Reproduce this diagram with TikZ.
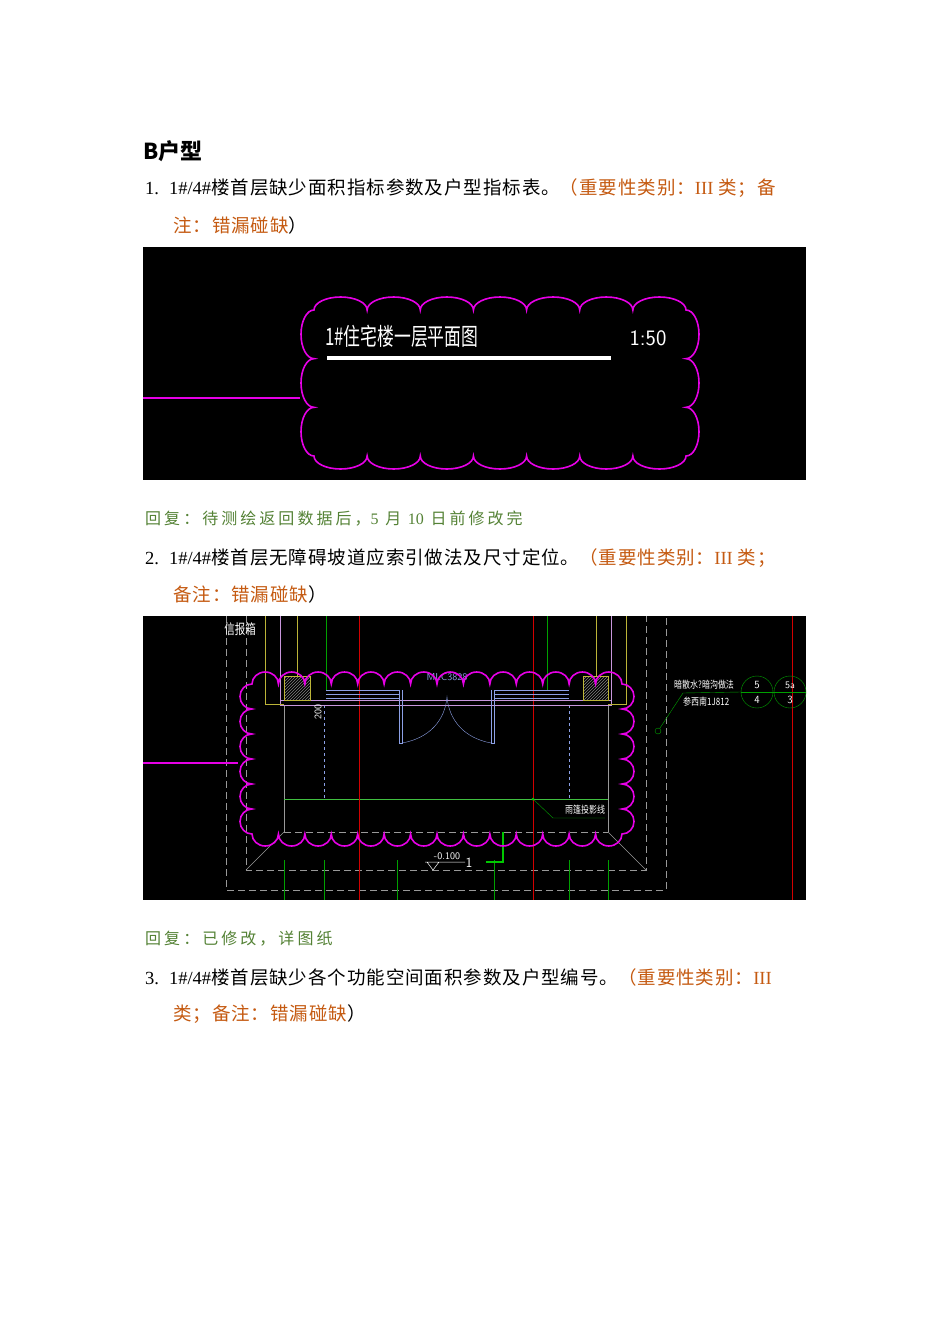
\documentclass[tikz,border=0pt]{standalone}
\usepackage{fontspec}
\setmainfont{Noto Sans CJK SC}
\newfontfamily\lat{Liberation Serif}
\usetikzlibrary{patterns}
\definecolor{cadpink}{RGB}{230,0,230}
\definecolor{orng}{RGB}{197,90,17}
\definecolor{grn}{RGB}{84,130,53}
\definecolor{wall}{RGB}{200,150,220}
\definecolor{door}{RGB}{140,160,230}
\definecolor{cgrn}{RGB}{0,200,0}
\definecolor{cred}{RGB}{210,0,0}
\newcommand\cloudpath[7]{%
 \pgfmathsetmacro\cw{(#3-#1)/#5}\pgfmathsetmacro\ch{(#4-#2)/#6}%
 \draw[cadpink,line width=1.6pt] (#1,#2)
  \foreach \i in {1,...,#5}{ arc[start angle=180,end angle=360,x radius=\cw/2,y radius=#7] }
  \foreach \i in {1,...,#6}{ arc[start angle=-90,end angle=90,x radius=#7,y radius=\ch/2] }
  \foreach \i in {1,...,#5}{ arc[start angle=0,end angle=180,x radius=\cw/2,y radius=#7] }
  \foreach \i in {1,...,#6}{ arc[start angle=90,end angle=270,x radius=#7,y radius=\ch/2] } -- cycle;}
\begin{document}
\begin{tikzpicture}[x=1pt,y=-1pt,
  body/.style={anchor=west,inner sep=0pt,font=\fontsize{18.5}{20}\selectfont\addfontfeatures{LetterSpace=5}},
  reply/.style={anchor=west,inner sep=0pt,text=grn,font=\fontsize{16}{18}\selectfont\addfontfeatures{LetterSpace=19}},
  cadtxt/.style={inner sep=0pt,text=white},
  gline/.style={gray!80,line width=0.6pt},
  gdash/.style={gray!80,dashed,dash pattern=on 7pt off 4pt,line width=0.6pt}]
\useasboundingbox[fill=white] (0,0) rectangle (950,1344);
\node[anchor=west,inner sep=0pt,font=\fontsize{22}{24}\selectfont\bfseries] (h) at (143,151) {B户型};
\node[body] (t1) at (145,188) {{\lat 1.}\hspace{10pt}{\lat 1\#/4\#}楼首层缺少面积指标参数及户型指标表。\textcolor{orng}{（重要性类别：{\lat III} 类；备}};
\node[body,text=orng] (t1b) at (173,225) {注：错漏碰缺\textcolor{black}{）}};
\node[reply] (r1) at (145,519) {回复：待测绘返回数据后，{\lat 5} 月 {\lat 10} 日前修改完};
\node[body] (t2) at (145,558) {{\lat 2.}\hspace{10pt}{\lat 1\#/4\#}楼首层无障碍坡道应索引做法及尺寸定位。\textcolor{orng}{（重要性类别：{\lat III} 类；}};
\node[body,text=orng] (t2b) at (173,594) {备注：错漏碰缺\textcolor{black}{）}};
\node[reply] (r2) at (145,939) {回复：已修改，详图纸};
\node[body] (t3) at (145,977) {{\lat 3.}\hspace{10pt}{\lat 1\#/4\#}楼首层缺少各个功能空间面积参数及户型编号。\textcolor{orng}{（重要性类别：{\lat III}}};
\node[body,text=orng] (t3b) at (173,1014) {类；备注：错漏碰缺\textcolor{black}{）}};
% image 1
\fill[black] (143,247) rectangle (806,480);
\draw[cadpink,line width=1.6pt] (143,398) -- (300,398);
\cloudpath{314}{310}{686}{456}{7}{3}{13}
\node[cadtxt,anchor=west,font=\fontsize{24}{26}\selectfont\addfontfeatures{FakeStretch=0.7}] (ttl) at (325,336) {1\#住宅楼一层平面图};
\node[cadtxt,font=\fontsize{22}{24}\selectfont\sffamily] (sc) at (648,338) {1:50};
\fill[white] (327,356) rectangle (611,360);
% image 2
\begin{scope}
\clip (143,616) rectangle (806,900);
\fill[black] (143,616) rectangle (806,900);
\draw[gdash] (226,616) -- (226,890) -- (666,890) -- (666,616);
\draw[gdash] (246,616) -- (246,870) -- (646,870) -- (646,616);
\draw[gdash] (284,832) -- (608,832);
\draw[gline] (284,832) -- (246,870) (608,832) -- (646,870);
\draw[gline] (284,705) -- (284,832) (608,705) -- (608,832);
\draw[door,dashed] (324,705) -- (324,799) (569,705) -- (569,799);
\draw[gline,green!50!gray] (284,799) -- (608,799);
\draw[cred,line width=0.8pt] (359,616) -- (359,900) (533,616) -- (533,900) (792,616) -- (792,900);
\draw[cgrn!80!black] (326,616) -- (326,690) (547,616) -- (547,690);
\foreach \x in {284,324,397,494,569,608} \draw[cgrn!80!black] (\x,860) -- (\x,900);
\draw[wall] (280,616) -- (280,705) -- (611,705) -- (611,616);
\draw[wall] (280,700) -- (611,700);
\draw[yellow!70!black] (265,616) -- (265,704) -- (284,704);
\draw[yellow!70!black] (297,616) -- (297,676) (626,616) -- (626,704) -- (608,704) (596,616) -- (596,676);
\fill[pattern=north east lines,pattern color=gray] (284,676) rectangle (310,700) (583,676) rectangle (608,700);
\draw[yellow!70!black] (284,676) rectangle (310,700) (583,676) rectangle (608,700);
\foreach \yy in {690,694,698} \draw[door] (326,\yy) -- (399,\yy) (494,\yy) -- (569,\yy);
\draw[door] (399,690) -- (399,743) -- (402,743) -- (402,690);
\draw[door] (494,690) -- (494,743) -- (491,743) -- (491,690);
\draw[door] (402,743) .. controls (430,738) and (445,720) .. (447,697) .. controls (449,720) and (464,738) .. (491,743);
\node[cadtxt,text=door,font=\fontsize{10}{12}\selectfont\sffamily] (mlc) at (447,677) {MLC3828};
\node[cadtxt,rotate=90,font=\fontsize{10}{12}\selectfont\sffamily] (d200) at (318,712) {200};
\node[cadtxt,font=\fontsize{14}{16}\selectfont\addfontfeatures{FakeStretch=0.75}] (xbx) at (240,629) {信报箱};
\node[cadtxt,font=\fontsize{10}{12}\selectfont\sffamily] (lv) at (447,856) {-0.100};
\coordinate (lva) at (425,862); \coordinate (lvb) at (465,862);
\draw[white,line width=0.5pt] (lva) -- (lvb) (427,862) -- (433,870) -- (439,862);
\node[cadtxt,font=\fontsize{14}{16}\selectfont\sffamily] (one) at (469,863) {1};
\draw[cgrn,line width=2pt] (503,832) -- (503,862) -- (486,862);
\node[cadtxt,anchor=west,font=\fontsize{10}{12}\selectfont\addfontfeatures{FakeStretch=0.8}] (an1) at (674,685) {暗散水?暗沟做法};
\node[cadtxt,anchor=west,font=\fontsize{10}{12}\selectfont\addfontfeatures{FakeStretch=0.8}] (an2) at (683,702) {参西南1J812};
\node[draw=cgrn!80!black,circle,minimum size=32pt,inner sep=0pt] (c1) at (757,692) {};
\node[draw=cgrn!80!black,circle,minimum size=32pt,inner sep=0pt] (c2) at (790,692) {};
\draw[cgrn!80!black] (c1.west) -- (c2.east);
\draw[cgrn!80!black] (683,693) -- (c1.west);
\node[cadtxt,font=\fontsize{11}{12}\selectfont\sffamily] at (757,685) {5};
\node[cadtxt,font=\fontsize{11}{12}\selectfont\sffamily] at (757,700) {4};
\node[cadtxt,font=\fontsize{10}{12}\selectfont\sffamily] at (790,685) {5a};
\node[cadtxt,font=\fontsize{11}{12}\selectfont\sffamily] at (790,700) {3};
\node[draw=cgrn!80!black,circle,minimum size=6pt,inner sep=0pt] (sm) at (658,731) {};
\draw[cgrn!80!black] (sm) -- (683,693);
\node[cadtxt,anchor=west,font=\fontsize{10}{12}\selectfont\addfontfeatures{FakeStretch=0.8}] (yp) at (565,810) {雨篷投影线};
\draw[cgrn!80!black] (533,799) -- (553,818) -- (605,818);
\fill[cgrn] (533,799) circle (1.5);
\draw[cadpink,line width=1.6pt] (143,763) -- (238,763);
\cloudpath{252}{684}{622}{834}{14}{6}{12}
\end{scope}
\end{tikzpicture}
\end{document}
